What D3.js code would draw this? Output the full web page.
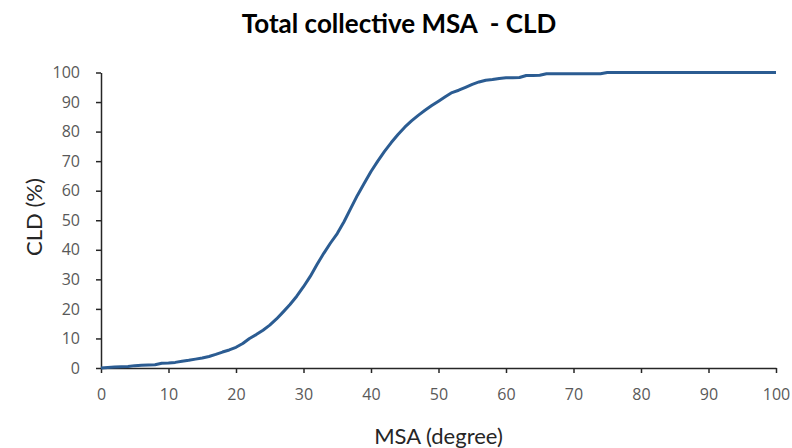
<!DOCTYPE html>
<html>
<head>
<meta charset="utf-8">
<script src="https://cdn.jsdelivr.net/npm/d3@7"></script>
<style>
  body { margin: 0; background: #fff; }
  svg { display: block; font-family: "Open Sans", sans-serif; }
</style>
</head>
<body>
<svg width="792" height="448"></svg>
<script>
const svg = d3.select("svg"),
    width = +svg.attr("width"),
    height = +svg.attr("height");

// MSA (degree) and cumulative CLD (%)
const msa = [0, 1, 2, 3, 4, 5, 6, 7, 8, 9, 10, 11, 12, 13, 14, 15, 16, 17, 18, 19,
  20, 21, 22, 23, 24, 25, 26, 27, 28, 29, 30, 31, 32, 33, 34, 35, 36, 37, 38, 39,
  40, 41, 42, 43, 44, 45, 46, 47, 48, 49, 50, 51, 52, 53, 54, 55, 56, 57, 58, 59,
  60, 61, 62, 63, 64, 65, 66, 70, 74, 75, 100];
const cld = [0, 0.2, 0.3, 0.4, 0.5, 0.8, 0.9, 1.0, 1.1, 1.6, 1.7, 1.9, 2.3, 2.6, 3.0, 3.4, 3.9, 4.6, 5.4, 6.1,
  7.0, 8.3, 10.0, 11.3, 12.8, 14.5, 16.6, 19.0, 21.5, 24.3, 27.5, 31.0, 35.0, 38.8, 42.3, 45.5, 49.5, 54.0, 58.5, 62.5,
  66.5, 70.0, 73.3, 76.3, 79.0, 81.5, 83.6, 85.5, 87.2, 88.8, 90.3, 91.8, 93.2, 94.0, 95.0, 96.0, 96.8, 97.4, 97.6, 98.0,
  98.2, 98.2, 98.3, 99.0, 99.0, 99.1, 99.6, 99.6, 99.6, 100, 100];

const xTicks = d3.range(0, 101, 10);
const yTicks = d3.range(0, 101, 10);

const margin = {top: 72.5, right: 16, bottom: 80, left: 101};

const x = d3.scaleLinear().domain([0, 100]).range([margin.left, width - margin.right]);
const y = d3.scaleLinear().domain([0, 100]).range([height - margin.bottom, margin.top]);

// title
svg.append("text")
    .attr("x", 399)
    .attr("y", 33)
    .attr("text-anchor", "middle")
    .style("font-family", "Lato, sans-serif")
    .style("font-size", "26px")
    .style("font-weight", 700)
    .style("white-space", "pre")
    .style("fill", "#000")
    .text("Total collective MSA  - CLD");

// axes
const xAxis = svg.append("g")
    .attr("transform", `translate(0,${y(0)})`)
    .call(d3.axisBottom(x).tickValues(xTicks).tickSize(5).tickPadding(16).tickSizeOuter(0));

const yAxis = svg.append("g")
    .attr("transform", `translate(${x(0)},0)`)
    .call(d3.axisLeft(y).tickValues(yTicks).tickSize(5).tickPadding(16).tickSizeOuter(0));

[xAxis, yAxis].forEach(g => {
  g.select(".domain").attr("stroke", "#262626").attr("stroke-width", 1.5);
  g.selectAll(".tick line").attr("stroke", "#262626").attr("stroke-width", 1.5);
  g.selectAll(".tick text")
      .attr("fill", "#595959")
      .style("font-size", "16px")
      .style("font-family", "Open Sans, sans-serif");
});

// axis titles
svg.append("text")
    .attr("x", (x(0) + x(100)) / 2)
    .attr("y", 444)
    .attr("text-anchor", "middle")
    .style("font-family", "Lato, sans-serif")
    .style("font-size", "22px")
    .style("fill", "#262626")
    .text("MSA (degree)");

svg.append("text")
    .attr("transform", `translate(42,217) rotate(-90)`)
    .attr("text-anchor", "middle")
    .style("font-family", "Lato, sans-serif")
    .style("font-size", "22px")
    .style("fill", "#262626")
    .text("CLD (%)");

// curve
const line = d3.line()
    .x((d, i) => x(msa[i]))
    .y(d => y(d));

svg.append("path")
    .datum(cld)
    .attr("d", line)
    .style("fill", "none")
    .style("stroke", "#2b5c92")
    .style("stroke-width", 3)
    .style("stroke-linejoin", "round")
</script>
</body>
</html>
